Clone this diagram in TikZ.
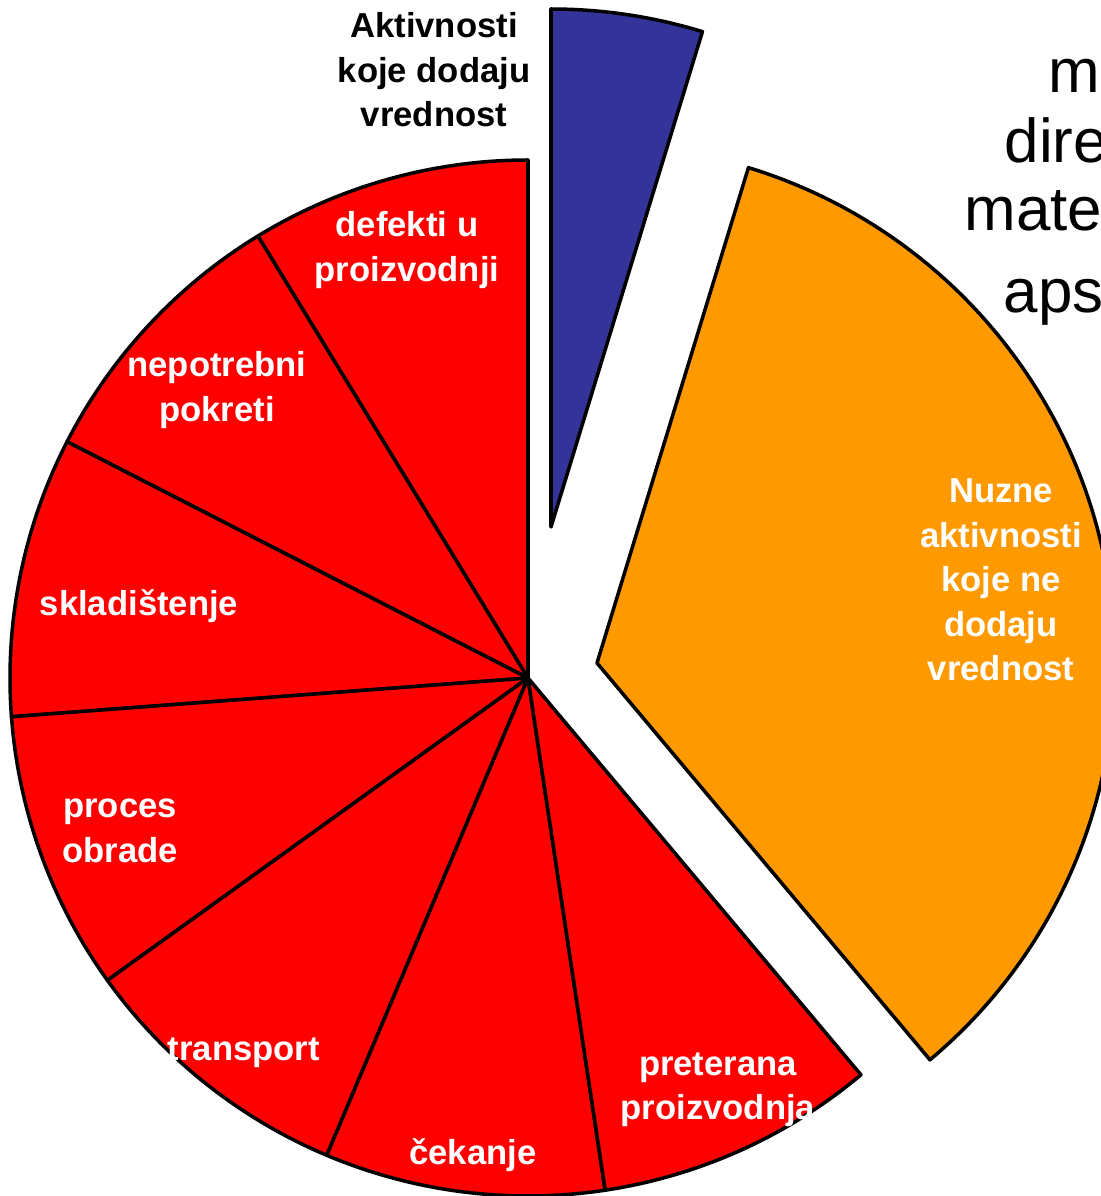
\documentclass[tikz,border=0pt]{standalone}
\usepackage{fontspec}
\setmainfont{Liberation Sans}
\usetikzlibrary{calc}
\definecolor{waste}{HTML}{FF0000}
\definecolor{needed}{HTML}{FF9900}
\definecolor{value}{HTML}{333399}

\begin{document}
\begin{tikzpicture}[
    x=0.01cm, y=0.01cm,
    slice/.style={draw=black, line width=1pt, line join=round},
    lbl/.style={font=\bfseries\fontsize{9.85}{12.66}\selectfont, align=center, inner sep=0pt, text=white},
    big/.style={font=\fontsize{17.6}{21}\selectfont, anchor=base west, inner sep=0pt},
    ]
    \useasboundingbox (-528,-518) rectangle (573,678);
    \coordinate (c) at (0,0);
    \coordinate (cn) at (69,15);
    \coordinate (cv) at (23,151);

    % red slices
    \draw[slice, fill=waste] (c) -- (90:518) arc[start angle=90, end angle=121.43, radius=518] -- cycle;
    \draw[slice, fill=waste] (c) -- (121.43:518) arc[start angle=121.43, end angle=152.86, radius=518] -- cycle;
    \draw[slice, fill=waste] (c) -- (152.86:518) arc[start angle=152.86, end angle=184.29, radius=518] -- cycle;
    \draw[slice, fill=waste] (c) -- (184.29:518) arc[start angle=184.29, end angle=215.71, radius=518] -- cycle;
    \draw[slice, fill=waste] (c) -- (215.71:518) arc[start angle=215.71, end angle=247.14, radius=518] -- cycle;
    \draw[slice, fill=waste] (c) -- (247.14:518) arc[start angle=247.14, end angle=278.57, radius=518] -- cycle;
    \draw[slice, fill=waste] (c) -- (278.57:518) arc[start angle=278.57, end angle=310, radius=518] -- cycle;

    % pulled out slices
    \draw[slice, fill=needed] (cn) -- ($(cn)+(-50:518)$) arc[start angle=-50, end angle=73, radius=518] -- cycle;
    \draw[slice, fill=value] (cv) -- ($(cv)+(73:518)$) arc[start angle=73, end angle=90, radius=518] -- cycle;

    \node at(-94,608) [lbl, text=black](va){Aktivnosti\\koje dodaju\\vrednost};
    \node at(-121,428) [lbl](def){defekti u\\proizvodnji};
    \node at(-311,288) [lbl](mov){nepotrebni\\pokreti};
    \node at(-389,72) [lbl](inv){skladištenje};
    \node at(-408,-153) [lbl](proc){proces\\obrade};
    \node at(-284,-375) [lbl](tra){transport};
    \node at(-55,-477) [lbl](wait){čekanje};
    \node at(190,-412) [lbl](over){preterana\\proizvodnja};
    \node at(473,98) [lbl](nva){Nuzne\\aktivnosti\\koje ne\\dodaju\\vrednost};

    \node at(520,586) [big](t1){m};
    \node at(476,516) [big](t2){dire};
    \node at(436,448) [big](t3){mate};
    \node at(475,366) [big](t4){aps};
\end{tikzpicture}
\end{document}
